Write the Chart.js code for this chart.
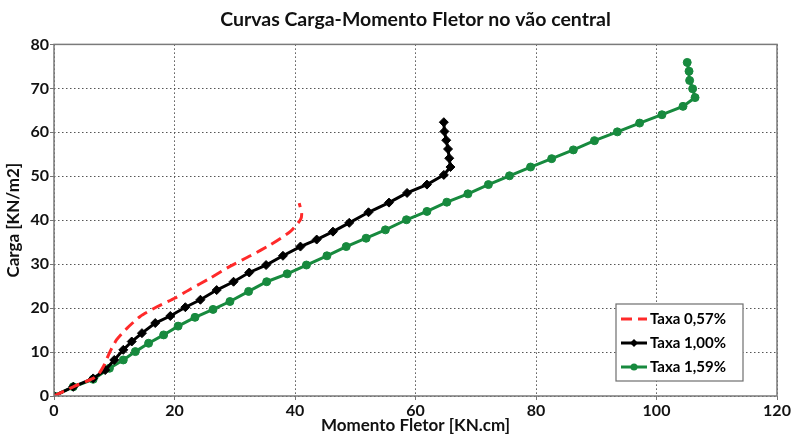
<!DOCTYPE html>
<html>
<head>
<meta charset="utf-8">
<script src="https://cdn.jsdelivr.net/npm/chart.js@4"></script>
<style>
    html, body { margin: 0; padding: 0; background: #fff; }
    #wrap { width: 794px; height: 436px; }
</style>
</head>
<body>
<div id="wrap"><canvas id="chart" width="794" height="436"></canvas></div>
<script>
// values
const titleText = 'Curvas Carga-Momento Fletor no vão central';
const xTitle = 'Momento Fletor [KN.cm]';
const yTitle = 'Carga [KN/m2]';
const seriesLabels = ['Taxa 0,57%', 'Taxa 1,00%', 'Taxa 1,59%'];

// Taxa 0,57% (dashed, no markers)
const momento057 = [0, 3.2, 6.5, 7.4, 8.2, 9.3, 10.4, 12.1, 14.3, 17.1, 20.1, 22.6, 25.9, 29.2, 32.6, 35.9, 39.2, 40.9, 41.1, 40.7];
const carga057 = [0, 2.1, 4.0, 5.0, 6.7, 10.1, 12.8, 15.4, 18.1, 20.3, 22.3, 24.3, 26.8, 29.5, 31.9, 34.4, 37.4, 40.1, 41.6, 43.9];

// Taxa 1,00% (diamonds)
const momento100 = [0, 3.2, 6.5, 8.5, 10, 11.5, 12.9, 14.6, 16.8, 19.3, 21.8, 24.3, 27, 29.8, 32.4, 35.2, 38, 40.9, 43.6, 46.3, 49, 52.2, 55.6, 58.6, 61.9, 64.7, 65.8, 65.6, 65.4, 65.1, 64.8, 64.7];
const carga100 = [0, 2.1, 4.0, 5.9, 8.2, 10.5, 12.4, 14.3, 16.6, 18.2, 20.2, 21.9, 24.1, 26, 28.1, 29.8, 31.9, 34, 35.6, 37.4, 39.4, 41.8, 44, 46.2, 48.1, 50.3, 52.1, 54.1, 56.2, 58.2, 60.2, 62.3];

// Taxa 1,59% (circles)
const momento159 = [0, 3.2, 6.5, 9.2, 11.5, 13.5, 15.7, 18.2, 20.6, 23.4, 26.4, 29.2, 32.3, 35.3, 38.7, 41.9, 45.3, 48.5, 51.8, 55, 58.5, 61.9, 65.2, 68.7, 72.1, 75.6, 79.1, 82.6, 86.2, 89.7, 93.5, 97.2, 100.9, 104.4, 106.4, 106, 105.5, 105.4, 105.1];
const carga159 = [0, 2.1, 3.8, 6.3, 8.2, 10.1, 12, 13.9, 15.9, 17.9, 19.7, 21.5, 23.8, 26, 27.8, 29.8, 31.9, 34, 35.9, 37.8, 40.1, 42, 44.1, 46, 48.1, 50.1, 52.1, 54, 56, 58.1, 60.1, 62.1, 64, 65.9, 67.9, 69.9, 71.8, 73.9, 75.9];

const xMax = 120, xStep = 20;
const yMax = 80, yStep = 10;

const RED = '#ff2a2a';
const BLACK = '#000000';
const GREEN = '#178a3e';
const FONT = 'Lato, "Open Sans", sans-serif';

const toPoints = (xs, ys) => xs.map((x, i) => ({ x: x, y: ys[i] }));

// frame around the plot area (box on)
const frame = {
    id: 'frame',
    afterDatasetsDraw(chart) {
        const { ctx, chartArea: a } = chart;
        ctx.save();
        ctx.strokeStyle = '#7a7a7a';
        ctx.lineWidth = 1.5;
        ctx.strokeRect(a.left, a.top, a.right - a.left, a.bottom - a.top);
        ctx.restore();
    }
};

// legend box inside the plot, lower right
const boxLegend = {
    id: 'boxLegend',
    afterDraw(chart) {
        const { ctx, chartArea: a } = chart;
        const w = 127, h = 77;
        const x0 = a.right - 34 - w, y0 = a.bottom - 15 - h;
        ctx.save();
        ctx.fillStyle = '#fff';
        ctx.fillRect(x0, y0, w, h);
        ctx.strokeStyle = '#6e6e6e';
        ctx.lineWidth = 1.2;
        ctx.strokeRect(x0, y0, w, h);
        ctx.font = 'bold 15px ' + FONT;
        ctx.textBaseline = 'middle';
        chart.data.datasets.forEach((ds, i) => {
            const cy = y0 + 15 + i * 24;
            ctx.strokeStyle = ds.borderColor;
            ctx.lineWidth = 3;
            ctx.setLineDash(ds.borderDash || []);
            ctx.beginPath();
            ctx.moveTo(x0 + 5, cy);
            ctx.lineTo(x0 + 31, cy);
            ctx.stroke();
            ctx.setLineDash([]);
            if (ds.pointRadius > 0) {
                ctx.fillStyle = ds.borderColor;
                ctx.beginPath();
                if (ds.pointStyle === 'rectRot') {
                    ctx.moveTo(x0 + 18, cy - 4); ctx.lineTo(x0 + 22, cy);
                    ctx.lineTo(x0 + 18, cy + 4); ctx.lineTo(x0 + 14, cy);
                } else {
                    ctx.arc(x0 + 18, cy, 3.5, 0, Math.PI * 2);
                }
                ctx.fill();
            }
            ctx.fillStyle = '#000';
            ctx.fillText(ds.label, x0 + 34, cy);
        });
        ctx.restore();
    }
};

new Chart(document.getElementById('chart'), {
    type: 'scatter',
    data: {
        datasets: [
            {
                label: seriesLabels[0],
                data: toPoints(momento057, carga057),
                showLine: true,
                borderColor: RED,
                backgroundColor: RED,
                borderWidth: 3,
                borderDash: [11, 6],
                pointRadius: 0,
                tension: 0.2
            },
            {
                label: seriesLabels[1],
                data: toPoints(momento100, carga100),
                showLine: true,
                borderColor: BLACK,
                backgroundColor: BLACK,
                borderWidth: 3,
                pointStyle: 'rectRot',
                pointRadius: 4.5,
                pointBorderWidth: 1,
                tension: 0
            },
            {
                label: seriesLabels[2],
                data: toPoints(momento159, carga159),
                showLine: true,
                borderColor: GREEN,
                backgroundColor: GREEN,
                borderWidth: 3,
                pointStyle: 'circle',
                pointRadius: 4,
                pointBorderWidth: 1,
                tension: 0
            }
        ]
    },
    options: {
        responsive: false,
        animation: false,
        layout: { padding: { left: 0, right: 17, top: 0, bottom: 0 } },
        plugins: {
            legend: { display: false },
            tooltip: { enabled: false },
            title: {
                display: true,
                fullSize: false,
                text: titleText,
                color: '#111',
                font: { family: FONT, size: 19.5, weight: 'bold' },
                padding: { top: 8, bottom: 13 }
            }
        },
        scales: {
            x: {
                type: 'linear',
                min: 0,
                max: xMax,
                ticks: {
                    stepSize: xStep,
                    color: '#111',
                    padding: 1,
                    font: { family: FONT, size: 16, weight: 'bold' }
                },
                grid: { color: '#555', lineWidth: 1, tickLength: 4, tickColor: '#777' },
                border: { display: false, dash: [1.5, 2.5] },
                title: {
                    display: true,
                    text: xTitle,
                    color: '#111',
                    font: { family: FONT, size: 17, weight: 'bold' },
                    padding: { top: 0, bottom: 0 }
                },
                afterFit: s => { s.height = 40; }
            },
            y: {
                type: 'linear',
                min: 0,
                max: yMax,
                ticks: {
                    stepSize: yStep,
                    color: '#111',
                    padding: 1,
                    font: { family: FONT, size: 16, weight: 'bold' }
                },
                grid: { color: '#555', lineWidth: 1, tickLength: 4, tickColor: '#777' },
                border: { display: false, dash: [1.5, 2.5] },
                title: {
                    display: true,
                    text: yTitle,
                    color: '#111',
                    font: { family: FONT, size: 17, weight: 'bold' },
                    padding: { top: 3, bottom: 0 }
                },
                afterFit: s => { s.width = 54; }
            }
        }
    },
    plugins: [frame, boxLegend]
});
</script>
</body>
</html>
